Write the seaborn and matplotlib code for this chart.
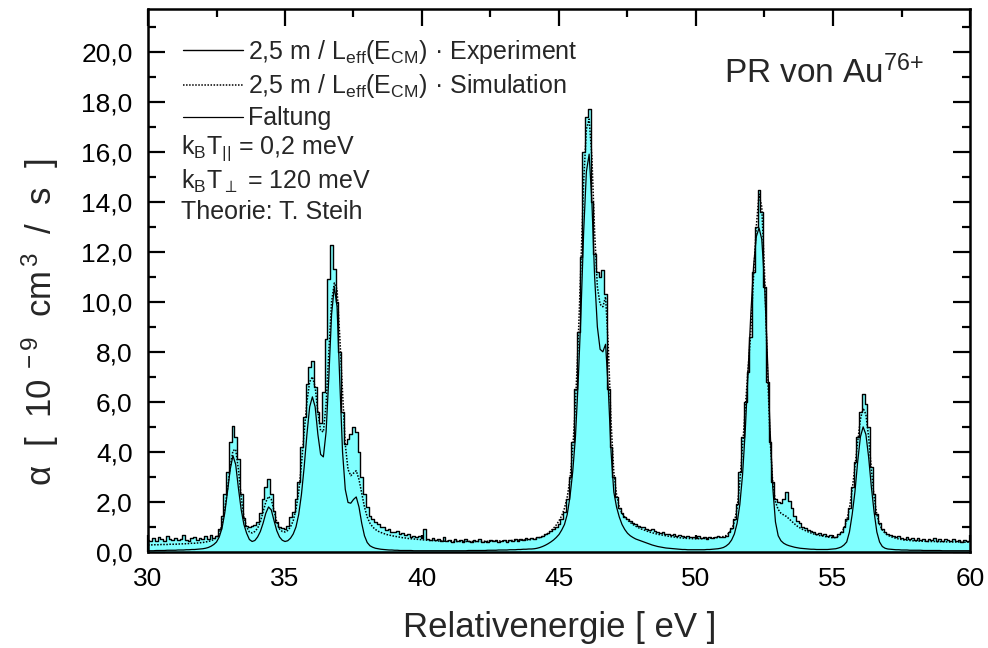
import numpy as np
import matplotlib
matplotlib.use("Agg")
import matplotlib.pyplot as plt
from matplotlib.ticker import MultipleLocator, FuncFormatter
import seaborn as sns

sns.set_theme(style="ticks")
plt.rcParams["font.family"] = ["Liberation Sans", "DejaVu Sans"]
plt.rcParams["mathtext.fontset"] = "custom"
plt.rcParams["mathtext.rm"] = "Liberation Sans"
plt.rcParams["mathtext.it"] = "Liberation Sans:italic"
plt.rcParams["mathtext.bf"] = "Liberation Sans:bold"
plt.rcParams["mathtext.default"] = "regular"

# Bin centres of the energy scan (0.1 eV bins, 30.0 ... 60.0 eV)
energy = np.round(np.linspace(30.0, 60.0, 301), 1)

# Measured rate coefficient, one row per eV (10 bins each), last entry 60.0 eV
experiment_rows = [
    [0.48, 0.42, 0.55, 0.45, 0.60, 0.50, 0.44, 0.62, 0.50, 0.46],  # 30
    [0.56, 0.47, 0.52, 0.66, 0.48, 0.44, 0.54, 0.60, 0.46, 0.57],  # 31
    [0.50, 0.63, 0.52, 0.66, 0.56, 0.64, 0.90, 1.45, 2.30, 3.20],  # 32
    [4.40, 5.05, 4.60, 3.70, 2.30, 1.35, 1.05, 1.00, 1.02, 1.08],  # 33
    [1.20, 1.55, 2.10, 2.60, 2.90, 2.30, 1.65, 1.20, 1.00, 0.95],  # 34
    [0.93, 1.05, 1.40, 1.60, 2.10, 2.80, 4.20, 5.40, 6.70, 7.40],  # 35
    [7.65, 6.60, 5.60, 5.15, 6.40, 8.50, 10.90, 12.25, 11.30, 10.00],  # 36
    [8.00, 5.60, 4.30, 4.50, 4.70, 5.00, 4.80, 4.00, 3.00, 2.30],  # 37
    [1.80, 1.45, 1.30, 1.18, 1.10, 1.00, 0.98, 0.88, 0.92, 0.80],  # 38
    [0.78, 0.82, 0.70, 0.74, 0.66, 0.70, 0.60, 0.64, 0.58, 0.62],  # 39
    [0.55, 0.90, 0.52, 0.48, 0.56, 0.47, 0.50, 0.44, 0.58, 0.42],  # 40
    [0.46, 0.40, 0.52, 0.43, 0.48, 0.38, 0.50, 0.44, 0.41, 0.47],  # 41
    [0.42, 0.50, 0.40, 0.45, 0.38, 0.47, 0.43, 0.49, 0.41, 0.44],  # 42
    [0.46, 0.40, 0.48, 0.44, 0.50, 0.45, 0.52, 0.47, 0.55, 0.50],  # 43
    [0.56, 0.52, 0.60, 0.58, 0.64, 0.70, 0.75, 0.82, 0.90, 1.00],  # 44
    [1.10, 1.30, 1.60, 2.10, 3.00, 4.40, 6.50, 8.80, 11.80, 16.00],  # 45
    [17.40, 17.70, 14.00, 11.90, 11.20, 11.00, 11.25, 10.30, 6.50, 4.20],  # 46
    [3.00, 2.20, 1.75, 1.55, 1.40, 1.32, 1.25, 1.15, 1.10, 1.05],  # 47
    [1.00, 0.98, 0.92, 0.88, 0.90, 0.82, 0.80, 0.76, 0.78, 0.72],  # 48
    [0.70, 0.68, 0.72, 0.64, 0.66, 0.62, 0.60, 0.65, 0.58, 0.60],  # 49
    [0.56, 0.62, 0.55, 0.58, 0.52, 0.60, 0.54, 0.58, 0.62, 0.58],  # 50
    [0.60, 0.62, 0.80, 0.95, 1.30, 1.90, 3.20, 4.60, 6.00, 7.20],  # 51
    [8.60, 11.20, 13.00, 14.45, 13.60, 10.60, 6.80, 4.40, 2.80, 2.10],  # 52
    [2.00, 1.95, 2.10, 2.38, 2.05, 1.75, 1.45, 1.25, 1.15, 1.00],  # 53
    [0.95, 0.88, 0.82, 0.80, 0.72, 0.75, 0.68, 0.70, 0.62, 0.66],  # 54
    [0.60, 0.58, 0.70, 0.80, 1.00, 1.30, 1.75, 2.60, 3.60, 4.60],  # 55
    [5.60, 6.30, 5.90, 5.00, 3.40, 2.30, 1.50, 1.15, 0.92, 0.80],  # 56
    [0.70, 0.66, 0.62, 0.58, 0.64, 0.55, 0.52, 0.58, 0.50, 0.54],  # 57
    [0.48, 0.55, 0.46, 0.52, 0.44, 0.50, 0.47, 0.56, 0.45, 0.50],  # 58
    [0.44, 0.52, 0.47, 0.42, 0.50, 0.45, 0.48, 0.40, 0.46, 0.43],  # 59
]
experiment_last = 0.45

# Monte-Carlo simulation of the same scan
simulation_rows = [
    [0.28, 0.28, 0.29, 0.29, 0.29, 0.30, 0.30, 0.30, 0.31, 0.31],  # 30
    [0.31, 0.32, 0.32, 0.33, 0.33, 0.34, 0.35, 0.35, 0.36, 0.37],  # 31
    [0.38, 0.40, 0.42, 0.45, 0.50, 0.58, 0.75, 1.10, 1.70, 2.50],  # 32
    [3.40, 4.05, 4.10, 3.30, 2.20, 1.40, 1.00, 0.80, 0.76, 0.82],  # 33
    [0.95, 1.20, 1.60, 2.00, 2.22, 2.10, 1.65, 1.20, 0.92, 0.82],  # 34
    [0.80, 0.86, 1.00, 1.25, 1.70, 2.40, 3.50, 4.80, 6.00, 6.80],  # 35
    [7.00, 6.60, 5.60, 4.85, 4.80, 5.90, 8.00, 10.00, 10.75, 10.50],  # 36
    [8.60, 6.40, 4.30, 3.30, 3.05, 3.15, 3.25, 2.90, 2.35, 1.80],  # 37
    [1.40, 1.15, 1.00, 0.90, 0.83, 0.78, 0.74, 0.70, 0.68, 0.65],  # 38
    [0.63, 0.61, 0.59, 0.57, 0.56, 0.54, 0.53, 0.52, 0.51, 0.50],  # 39
    [0.49, 0.48, 0.47, 0.46, 0.46, 0.45, 0.44, 0.44, 0.43, 0.43],  # 40
    [0.43, 0.42, 0.42, 0.42, 0.42, 0.42, 0.42, 0.42, 0.42, 0.42],  # 41
    [0.42, 0.42, 0.42, 0.43, 0.43, 0.43, 0.43, 0.44, 0.44, 0.44],  # 42
    [0.45, 0.45, 0.45, 0.46, 0.46, 0.47, 0.47, 0.48, 0.48, 0.49],  # 43
    [0.50, 0.52, 0.55, 0.58, 0.62, 0.68, 0.75, 0.84, 0.95, 1.08],  # 44
    [1.25, 1.45, 1.75, 2.20, 2.90, 4.10, 5.90, 8.40, 11.50, 14.80],  # 45
    [16.90, 17.30, 15.80, 12.80, 10.60, 9.90, 9.80, 10.20, 8.20, 5.20],  # 46
    [3.20, 2.30, 1.80, 1.55, 1.40, 1.28, 1.18, 1.10, 1.03, 0.97],  # 47
    [0.92, 0.88, 0.84, 0.80, 0.77, 0.74, 0.71, 0.69, 0.67, 0.65],  # 48
    [0.63, 0.61, 0.60, 0.58, 0.57, 0.56, 0.55, 0.54, 0.54, 0.53],  # 49
    [0.53, 0.53, 0.53, 0.54, 0.54, 0.55, 0.56, 0.57, 0.58, 0.60],  # 50
    [0.62, 0.66, 0.75, 0.90, 1.20, 1.75, 2.80, 4.20, 5.80, 7.30],  # 51
    [8.80, 11.00, 13.00, 14.30, 13.80, 11.20, 7.60, 4.60, 2.80, 2.00],  # 52
    [1.70, 1.55, 1.48, 1.42, 1.32, 1.22, 1.12, 1.03, 0.96, 0.90],  # 53
    [0.85, 0.80, 0.76, 0.72, 0.69, 0.66, 0.64, 0.62, 0.60, 0.58],  # 54
    [0.57, 0.58, 0.64, 0.75, 0.95, 1.25, 1.75, 2.50, 3.40, 4.40],  # 55
    [5.30, 5.75, 5.50, 4.60, 3.30, 2.20, 1.50, 1.10, 0.88, 0.75],  # 56
    [0.67, 0.62, 0.58, 0.55, 0.52, 0.50, 0.48, 0.47, 0.46, 0.45],  # 57
    [0.44, 0.44, 0.43, 0.43, 0.43, 0.42, 0.42, 0.42, 0.41, 0.41],  # 58
    [0.41, 0.41, 0.40, 0.40, 0.40, 0.40, 0.40, 0.39, 0.39, 0.39],  # 59
]
simulation_last = 0.39

# Theory convolved with the electron-beam energy distribution
faltung_rows = [
    [0.05, 0.05, 0.05, 0.06, 0.06, 0.06, 0.06, 0.07, 0.07, 0.07],  # 30
    [0.07, 0.08, 0.08, 0.08, 0.09, 0.09, 0.10, 0.10, 0.11, 0.12],  # 31
    [0.13, 0.15, 0.18, 0.23, 0.30, 0.40, 0.60, 0.95, 1.55, 2.40],  # 32
    [3.30, 3.85, 3.50, 2.55, 1.70, 1.10, 0.75, 0.50, 0.42, 0.46],  # 33
    [0.60, 0.82, 1.15, 1.55, 1.80, 1.68, 1.25, 0.85, 0.60, 0.47],  # 34
    [0.42, 0.45, 0.55, 0.72, 1.00, 1.50, 2.30, 3.40, 4.70, 5.80],  # 35
    [6.20, 5.80, 4.70, 3.90, 3.80, 4.80, 7.00, 9.50, 10.60, 9.80],  # 36
    [6.80, 4.00, 2.50, 1.98, 1.95, 2.10, 2.20, 1.80, 1.15, 0.65],  # 37
    [0.38, 0.25, 0.19, 0.15, 0.13, 0.11, 0.10, 0.09, 0.08, 0.08],  # 38
    [0.07, 0.07, 0.06, 0.06, 0.06, 0.06, 0.06, 0.05, 0.05, 0.05],  # 39
    [0.05, 0.05, 0.05, 0.05, 0.05, 0.05, 0.05, 0.05, 0.05, 0.05],  # 40
    [0.05, 0.05, 0.05, 0.05, 0.05, 0.05, 0.05, 0.06, 0.06, 0.06],  # 41
    [0.06, 0.06, 0.06, 0.06, 0.07, 0.07, 0.07, 0.07, 0.08, 0.08],  # 42
    [0.08, 0.08, 0.09, 0.09, 0.09, 0.10, 0.10, 0.11, 0.11, 0.12],  # 43
    [0.12, 0.13, 0.15, 0.18, 0.22, 0.27, 0.33, 0.40, 0.48, 0.58],  # 44
    [0.70, 0.88, 1.10, 1.50, 2.20, 3.20, 4.60, 6.80, 9.50, 12.80],  # 45
    [15.20, 15.90, 14.00, 11.00, 9.00, 8.10, 8.00, 8.30, 6.50, 4.00],  # 46
    [2.40, 1.80, 1.40, 1.10, 0.90, 0.75, 0.65, 0.58, 0.52, 0.48],  # 47
    [0.44, 0.40, 0.36, 0.32, 0.28, 0.25, 0.22, 0.20, 0.18, 0.16],  # 48
    [0.15, 0.14, 0.13, 0.12, 0.11, 0.10, 0.10, 0.09, 0.09, 0.09],  # 49
    [0.09, 0.09, 0.09, 0.09, 0.10, 0.10, 0.11, 0.12, 0.13, 0.15],  # 50
    [0.18, 0.24, 0.33, 0.48, 0.72, 1.15, 1.90, 3.10, 4.90, 7.20],  # 51
    [9.50, 11.40, 12.60, 12.95, 12.50, 10.80, 8.00, 5.00, 2.60, 1.20],  # 52
    [0.65, 0.45, 0.35, 0.29, 0.25, 0.22, 0.19, 0.17, 0.15, 0.14],  # 53
    [0.13, 0.12, 0.11, 0.11, 0.10, 0.10, 0.10, 0.10, 0.10, 0.11],  # 54
    [0.12, 0.13, 0.16, 0.20, 0.28, 0.40, 0.80, 1.50, 2.40, 3.60],  # 55
    [4.60, 5.00, 4.70, 3.80, 2.60, 1.60, 0.80, 0.40, 0.22, 0.15],  # 56
    [0.12, 0.11, 0.10, 0.09, 0.09, 0.08, 0.08, 0.08, 0.07, 0.07],  # 57
    [0.07, 0.07, 0.07, 0.06, 0.06, 0.06, 0.06, 0.06, 0.06, 0.06],  # 58
    [0.05, 0.05, 0.05, 0.05, 0.05, 0.05, 0.05, 0.05, 0.05, 0.05],  # 59
]
faltung_last = 0.05


def flatten(rows, last):
    return np.array([v for row in rows for v in row] + [last])


experiment = flatten(experiment_rows, experiment_last)
simulation = flatten(simulation_rows, simulation_last)
faltung = flatten(faltung_rows, faltung_last)

label_exp = r"2,5 m / L$_{\rm eff}$(E$_{\rm CM}$) · Experiment"
label_sim = r"2,5 m / L$_{\rm eff}$(E$_{\rm CM}$) · Simulation"
label_falt = "Faltung"

fig = plt.figure(figsize=(9.88, 6.48), dpi=100)
ax = fig.add_axes([148 / 988, 96 / 648, 822 / 988, 543 / 648])

ax.fill_between(energy, experiment, step="mid", color="#80ffff", lw=0, zorder=1)
sns.lineplot(x=energy, y=experiment, drawstyle="steps-mid", color="black",
             lw=1.0, ax=ax, label=label_exp, zorder=3)
sns.lineplot(x=energy, y=simulation, color="black", lw=1.1,
             linestyle=(0, (1, 1)), ax=ax, label=label_sim, zorder=4)
sns.lineplot(x=energy, y=faltung, color="black", lw=0.9, ax=ax,
             label=label_falt, zorder=5)

ax.set_xlim(30, 60)
ax.set_ylim(0, 21.7)
ax.xaxis.set_major_locator(MultipleLocator(5))
ax.xaxis.set_minor_locator(MultipleLocator(2.5))
ax.yaxis.set_major_locator(MultipleLocator(2))
ax.yaxis.set_minor_locator(MultipleLocator(1))
ax.yaxis.set_major_formatter(FuncFormatter(lambda v, p: f"{v:.1f}".replace(".", ",")))
ax.tick_params(which="both", direction="in", top=True, right=True,
               colors="black", width=1.6)
ax.tick_params(which="major", length=12, labelsize=19, pad=11)
ax.tick_params(which="minor", length=6)
for sp in ax.spines.values():
    sp.set_visible(True)
    sp.set_linewidth(1.8)
    sp.set_color("black")
ax.set_xlabel("")
ax.set_ylabel("")

handles, labels = ax.get_legend_handles_labels()
ax.legend(handles, labels, loc="upper left", bbox_to_anchor=(183 / 988, 1 - 38 / 648),
          bbox_transform=fig.transFigure, frameon=False, fontsize=18,
          handlelength=2.4, handletextpad=0.2, labelspacing=0.25,
          borderpad=0, borderaxespad=0)

for text, ypix in [(r"k$_{\rm B}$T$_{||}$ = 0,2 meV", 148),
                   (r"k$_{\rm B}$T$_{\perp}$ = 120 meV", 181),
                   ("Theorie: T. Steih", 212)]:
    fig.text(181 / 988, 1 - ypix / 648, text, fontsize=18, va="center", ha="left")

fig.text(724 / 988, 1 - 73 / 648, r"PR von Au$^{76{+}}$", fontsize=24, va="center", ha="left")

fig.text(560 / 988, 1 - 627 / 648, "Relativenergie [ eV ]", fontsize=25,
         ha="center", va="center")
fig.text(40 / 988, 1 - 322 / 648, r"α  [  10$^{\;-9}$  cm$^{\,3}$  /  s  ]", fontsize=25,
         ha="center", va="center", rotation=90)

fig.savefig("out.png", dpi=100)
